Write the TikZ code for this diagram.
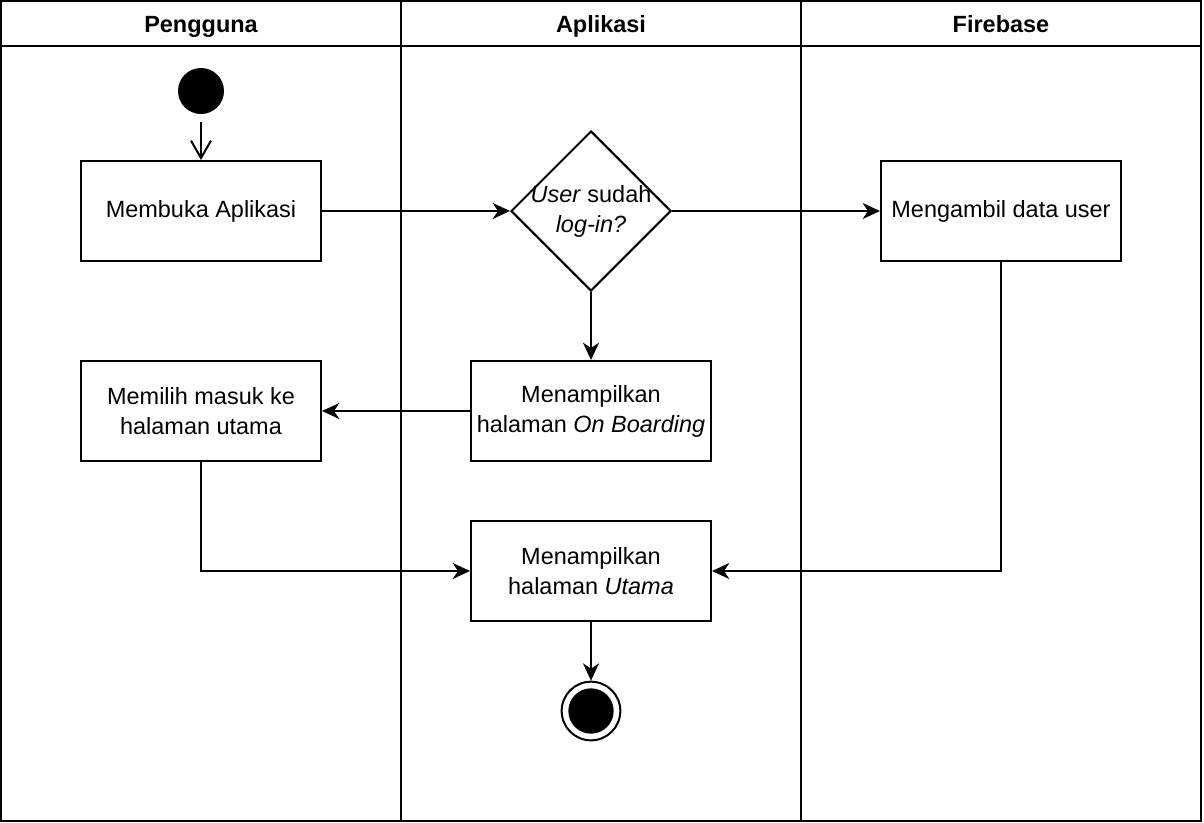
\documentclass[tikz,border=0pt]{standalone}
\usepackage{fontspec}
\setmainfont{Liberation Sans}
\usetikzlibrary{shapes.geometric,arrows.meta}

\tikzset{every picture/.style={line width=1.5pt},
  kotak/.style={draw, rectangle, minimum width=180pt, minimum height=75pt, inner sep=0.75pt, align=center, font=\fontsize{17.6}{22.5}\selectfont},
  keputusan/.style={draw, diamond, aspect=1, minimum width=120pt, minimum height=120pt, inner sep=0pt},
  awal/.style={circle, fill=black, minimum size=34.5pt, inner sep=0pt},
  akhir/.style={circle, draw, minimum size=44pt, inner sep=0pt, path picture={\fill (path picture bounding box.center) circle (17pt);}},
  judul/.style={anchor=base, inner sep=0.75pt, font=\fontsize{17.6}{21}\selectfont\bfseries},
  panah/.style={-{Stealth[length=13pt,width=12pt,inset=4pt]}},
  panahbuka/.style={-{Straight Barb[length=13pt,width=15pt]}, shorten <=5pt}
}

\begin{document}
\begin{tikzpicture}[x=0.75pt,y=0.75pt,yscale=-1,xscale=1]
\useasboundingbox (0,0) rectangle (1204,822);

% Swimlanes
\draw (1,1) rectangle (1201,821);
\draw (1,46) -- (1201,46);
\draw (401,1) -- (401,821);
\draw (801,1) -- (801,821);
\node [judul] (hPengguna) at (201,32) {Pengguna};
\node [judul] (hAplikasi) at (601,32) {Aplikasi};
\node [judul] (hFirebase) at (1001,32) {Firebase};

% Text Node
\node [awal] (mulai) at (201,91) {};
\node [kotak] (membuka) at (201,211) {Membuka Aplikasi};
\node [keputusan, label={[font=\fontsize{17.6}{22.5}\selectfont, align=center]center:{\textit{User} sudah\\\textit{log-in?}}}] (cek) at (591,211) {};
\node [kotak] (ambil) at (1001,211) {Mengambil data user};
\node [kotak] (pilih) at (201,411) {Memilih masuk ke\\halaman utama};
\node [kotak] (onboard) at (591,411) {Menampilkan\\halaman \textit{On Boarding}};
\node [kotak] (utama) at (591,571) {Menampilkan\\halaman \textit{Utama}};
\node [akhir] (selesai) at (591,711) {};

% Connection
\draw [panahbuka] (mulai.south) -- (membuka.north);
\draw [panah] (membuka.east) -- (cek.west);
\draw [panah] (cek.east) -- (ambil.west);
\draw [panah] (cek.south) -- (onboard.north);
\draw [panah] (onboard.west) -- (pilih.east);
\draw [panah] (pilih.south) |- (utama.west);
\draw [panah] (ambil.south) |- (utama.east);
\draw [panah] (utama.south) -- (selesai.north);

\end{tikzpicture}
\end{document}
